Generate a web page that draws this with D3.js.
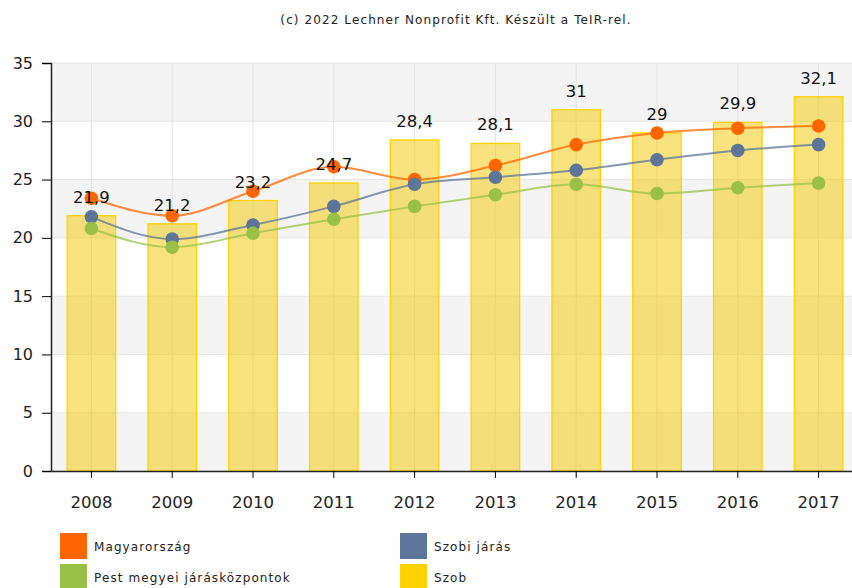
<!DOCTYPE html>
<html lang="hu">
<head>
  <meta charset="UTF-8" />
  <title>Szob</title>
  <script src="https://d3js.org/d3.v7.min.js"></script>
  <style>
    body { margin: 0; background: #fff; font-family: 'DejaVu Sans', Verdana, sans-serif; }
    svg { display: block; }
  </style>
</head>
<body>
<svg id="chart" width="852" height="588"></svg>
<script>
  // data
  const years = ["2008","2009","2010","2011","2012","2013","2014","2015","2016","2017"];
  const szob = [21.9, 21.2, 23.2, 24.7, 28.4, 28.1, 31, 29, 29.9, 32.1];
  const magyarorszag = [23.4, 21.9, 24.0, 26.1, 25.0, 26.2, 28.0, 29.0, 29.4, 29.6];
  const szobiJaras = [21.8, 19.9, 21.1, 22.7, 24.6, 25.2, 25.8, 26.7, 27.5, 28.0];
  const pestKozpontok = [20.8, 19.2, 20.4, 21.6, 22.7, 23.7, 24.6, 23.8, 24.3, 24.7];
  const yTicks = [0, 5, 10, 15, 20, 25, 30, 35];

  const lines = [
    { name: "Magyarország", values: magyarorszag, color: "#FF6600" },
    { name: "Szobi járás", values: szobiJaras, color: "#5C7599" },
    { name: "Pest megyei járásközpontok", values: pestKozpontok, color: "#99C14A" }
  ];

  const svg = d3.select("#chart");
  const plotLeft = 51, plotTop = 63, plotBottom = 471, plotRight = 859;
  const font = "'DejaVu Sans', Verdana, sans-serif";

  const x = d3.scaleBand().domain(years).range([plotLeft, plotRight])
    .paddingInner(0.4).paddingOuter(0.2);
  const y = d3.scaleLinear().domain([0, 35]).range([plotBottom, plotTop]);
  const cx = d => x(d) + x.bandwidth() / 2;

  svg.append("text")
    .attr("x", 456).attr("y", 24)
    .attr("text-anchor", "middle")
    .attr("font-size", 12).attr("letter-spacing", 1.1).attr("fill", "#222")
    .text("(c) 2022 Lechner Nonprofit Kft. Készült a TeIR-rel.");

  // alternating bands
  const bands = d3.range(0, 35, 10);
  svg.append("g").selectAll("rect").data(bands).join("rect")
    .attr("x", plotLeft).attr("width", plotRight - plotLeft)
    .attr("y", d => y(d + 5)).attr("height", d => y(d) - y(d + 5))
    .attr("fill", "#f4f4f4");

  // grid lines
  svg.append("g").selectAll("line").data(yTicks).join("line")
    .attr("x1", plotLeft).attr("x2", plotRight)
    .attr("y1", d => y(d)).attr("y2", d => y(d))
    .attr("stroke", "#e6e6e6");
  svg.append("g").selectAll("line").data(years).join("line")
    .attr("x1", cx).attr("x2", cx)
    .attr("y1", plotTop).attr("y2", plotBottom)
    .attr("stroke", "#e3e3e3");

  // bars
  svg.append("g").selectAll("rect").data(years).join("rect")
    .attr("x", d => x(d)).attr("width", x.bandwidth())
    .attr("y", (d, i) => y(szob[i]))
    .attr("height", (d, i) => plotBottom - y(szob[i]))
    .attr("fill", "rgba(244,200,0,0.5)")
    .attr("stroke", "#FFD200").attr("stroke-width", 1.3);

  // axes
  const yAxis = svg.append("g")
    .attr("transform", `translate(${plotLeft},0)`)
    .call(d3.axisLeft(y).tickValues(yTicks).tickSize(9).tickPadding(9));
  yAxis.select(".domain").attr("stroke", "#222").attr("stroke-width", 1.5);
  yAxis.selectAll("text").attr("font-size", 16).attr("fill", "#222").attr("font-family", font);

  const xAxis = svg.append("g")
    .attr("transform", `translate(0,${plotBottom})`)
    .call(d3.axisBottom(x).tickSize(7).tickPadding(18).tickSizeOuter(0));
  xAxis.select(".domain").attr("stroke", "#222").attr("stroke-width", 1.5);
  xAxis.selectAll("text").attr("font-size", 16.5).attr("fill", "#222").attr("font-family", font);

  // lines
  const lineGen = d3.line()
    .x((d, i) => cx(years[i]))
    .y(d => y(d))
    .curve(d3.curveMonotoneX);

  lines.forEach(s => {
    svg.append("path")
      .attr("d", lineGen(s.values))
      .attr("fill", "none")
      .attr("stroke", s.color).attr("stroke-opacity", 0.75)
      .attr("stroke-width", 2);
    svg.append("g").selectAll("circle").data(s.values).join("circle")
      .attr("cx", (d, i) => cx(years[i]))
      .attr("cy", d => y(d))
      .attr("r", 6.8)
      .attr("fill", s.color);
  });

  // bar labels
  svg.append("g").selectAll("text").data(years).join("text")
    .attr("x", cx)
    .attr("y", (d, i) => y(szob[i]) - 13)
    .attr("text-anchor", "middle")
    .attr("font-size", 16.5).attr("fill", "#111")
    .text((d, i) => String(szob[i]).replace(".", ","));

  // legend
  const legendItems = [
    { name: "Magyarország", color: "#FF6600", lx: 60, ly: 533 },
    { name: "Szobi járás", color: "#5C7599", lx: 400, ly: 533 },
    { name: "Pest megyei járásközpontok", color: "#99C14A", lx: 60, ly: 564 },
    { name: "Szob", color: "#FFD200", lx: 400, ly: 564 }
  ];
  const lg = svg.append("g").selectAll("g").data(legendItems).join("g")
    .attr("transform", d => `translate(${d.lx},${d.ly})`);
  lg.append("rect").attr("width", 27).attr("height", 26).attr("fill", d => d.color);
  lg.append("text").attr("x", 34).attr("y", 18)
    .attr("font-size", 12).attr("letter-spacing", 1.1).attr("fill", "#222")
    .text(d => d.name);
</script>
</body>
</html>
